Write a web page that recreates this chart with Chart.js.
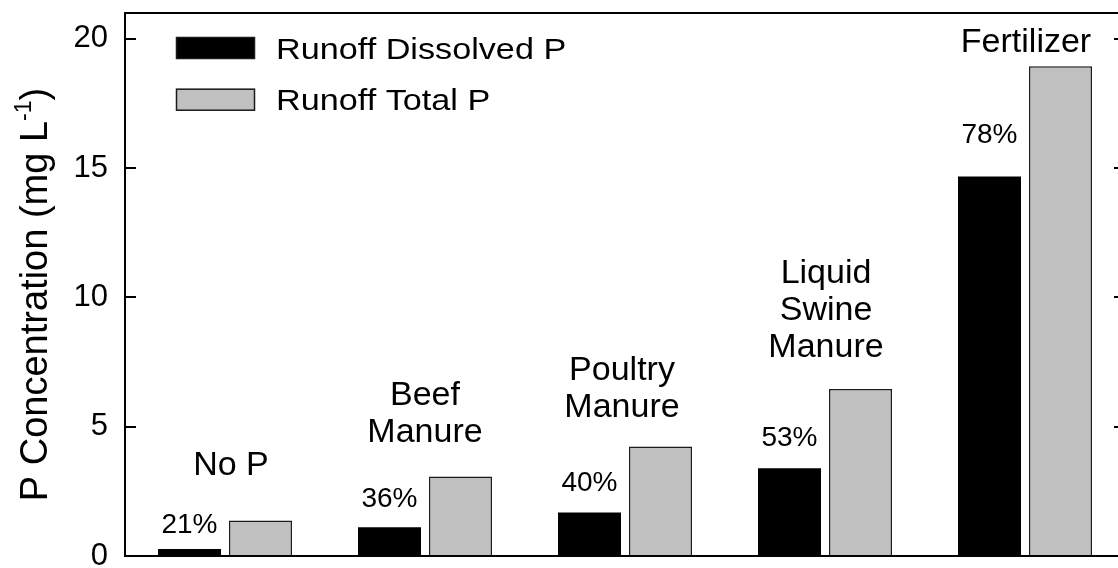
<!DOCTYPE html>
<html>
<head>
<meta charset="utf-8">
<script src="https://cdn.jsdelivr.net/npm/chart.js@4.4.1/dist/chart.umd.min.js"></script>
<style>
  html, body { margin: 0; padding: 0; background: #fff; overflow: hidden; width: 1118px; height: 568px; }
  #wrap { width: 1126px; height: 568px; }
</style>
</head>
<body>
<div id="wrap"><canvas id="c" width="1126" height="568"></canvas></div>
<script>
// ---- data ----
const categories = ["No P", "Beef Manure", "Poultry Manure", "Liquid Swine Manure", "Fertilizer"];
const categoryLines = [["No P"], ["Beef", "Manure"], ["Poultry", "Manure"], ["Liquid", "Swine", "Manure"], ["Fertilizer"]];
const dissolvedP = [0.27, 1.11, 1.68, 3.39, 14.68];
const totalP = [1.37, 3.07, 4.23, 6.46, 18.94];
const dissolvedPct = ["21%", "36%", "40%", "53%", "78%"];
const yTicks = [0, 5, 10, 15, 20];
const seriesNames = ["Runoff Dissolved P", "Runoff Total P"];

// ---- annotation placement (value units for baselines) ----
const pctBaselineY = [0.88, 1.91, 2.51, 4.25, 15.96];
const catLastBaselineY = [3.13, 4.42, 5.39, 7.71, 19.5];
const catXOffsetPx = [6, 0, -3, 1, 1];

const FONT = '"Liberation Sans", Arial, Helvetica, sans-serif';

const overlay = {
  id: 'overlay',
  afterDatasetsDraw(chart) {
    const ctx = chart.ctx;
    const a = chart.chartArea;
    const ys = chart.scales.y;
    const xs = chart.scales.x;
    ctx.save();
    // frame
    ctx.strokeStyle = '#000';
    ctx.lineWidth = 2;
    ctx.strokeRect(a.left, a.top, a.right - a.left, a.bottom - a.top);
    // inward ticks both sides
    yTicks.forEach(v => {
      const y = Math.round(ys.getPixelForValue(v));
      ctx.beginPath();
      ctx.moveTo(a.left, y); ctx.lineTo(a.left + 11, y);
      ctx.moveTo(a.right - 11, y); ctx.lineTo(a.right, y);
      ctx.stroke();
    });
    // percentage labels above black bars
    const meta0 = chart.getDatasetMeta(0);
    ctx.fillStyle = '#000';
    ctx.textAlign = 'center';
    ctx.textBaseline = 'alphabetic';
    ctx.font = '28px ' + FONT;
    dissolvedPct.forEach((t, i) => {
      const bx = meta0.data[i].x;
      ctx.fillText(t, bx, ys.getPixelForValue(pctBaselineY[i]));
    });
    // category labels
    ctx.font = '34px ' + FONT;
    categoryLines.forEach((lines, i) => {
      const cx = xs.getPixelForValue(i) + catXOffsetPx[i];
      const lastY = ys.getPixelForValue(catLastBaselineY[i]);
      const n = lines.length;
      lines.forEach((ln, j) => {
        ctx.fillText(ln, cx, lastY - (n - 1 - j) * 37);
      });
    });
    // legend
    chart.data.datasets.forEach((ds, i) => {
      const top = 37 + i * 51.7;
      ctx.fillStyle = ds.backgroundColor;
      ctx.fillRect(176, top, 79, 22);
      ctx.lineWidth = 1.5;
      ctx.strokeStyle = '#1a1a1a';
      ctx.strokeRect(176.5, top + 0.5, 78, 21);
      ctx.save();
      ctx.translate(276, top + 21.5);
      ctx.scale(1.14, 1);
      ctx.fillStyle = '#000';
      ctx.textAlign = 'left';
      ctx.font = '30px ' + FONT;
      ctx.fillText(ds.label, 0, 0);
      ctx.restore();
    });
    // y axis title with superscript
    ctx.save();
    ctx.translate(47, 294.5);
    ctx.rotate(-Math.PI / 2);
    ctx.fillStyle = '#000';
    ctx.textAlign = 'left';
    const main = 'P Concentration (mg L';
    const sup = '-1';
    const tail = ')';
    ctx.font = '38px ' + FONT;
    const wMain = ctx.measureText(main).width;
    const wTail = ctx.measureText(tail).width;
    ctx.font = '23px ' + FONT;
    const wSup = ctx.measureText(sup).width;
    const total = wMain + wSup + wTail;
    const x0 = -total / 2;
    ctx.font = '38px ' + FONT;
    ctx.fillText(main, x0, 0);
    ctx.font = '23px ' + FONT;
    ctx.fillText(sup, x0 + wMain, -16);
    ctx.font = '38px ' + FONT;
    ctx.fillText(tail, x0 + wMain + wSup, 0);
    ctx.restore();
    ctx.restore();
  }
};

new Chart(document.getElementById('c'), {
  type: 'bar',
  data: {
    labels: categories,
    datasets: [
      { label: seriesNames[0], data: dissolvedP, backgroundColor: '#000000', borderColor: '#000000', borderWidth: 0,
        categoryPercentage: 0.71, barPercentage: 0.887 },
      { label: seriesNames[1], data: totalP, backgroundColor: '#c0c0c0', borderColor: '#1a1a1a', borderWidth: 1.5,
        categoryPercentage: 0.71, barPercentage: 0.887 }
    ]
  },
  options: {
    responsive: false,
    animation: false,
    devicePixelRatio: 1,
    layout: { padding: { top: 13, right: 1, left: 0, bottom: 0 } },
    plugins: { legend: { display: false }, tooltip: { enabled: false }, title: { display: false } },
    scales: {
      x: {
        grid: { display: false, drawTicks: false },
        border: { display: false },
        ticks: { display: false },
        afterFit(s) { s.height = 12; s.paddingLeft = 0; s.paddingRight = 0; }
      },
      y: {
        min: 0, max: 21,
        afterBuildTicks(s) { s.ticks = yTicks.map(v => ({ value: v })); },
        grid: { display: false, drawTicks: false },
        border: { display: false },
        ticks: { color: '#000', font: { family: FONT, size: 31 }, padding: 17 },
        afterFit(s) { s.width = 125; s.paddingTop = 0; s.paddingBottom = 0; }
      }
    }
  },
  plugins: [overlay]
});
</script>
</body>
</html>
